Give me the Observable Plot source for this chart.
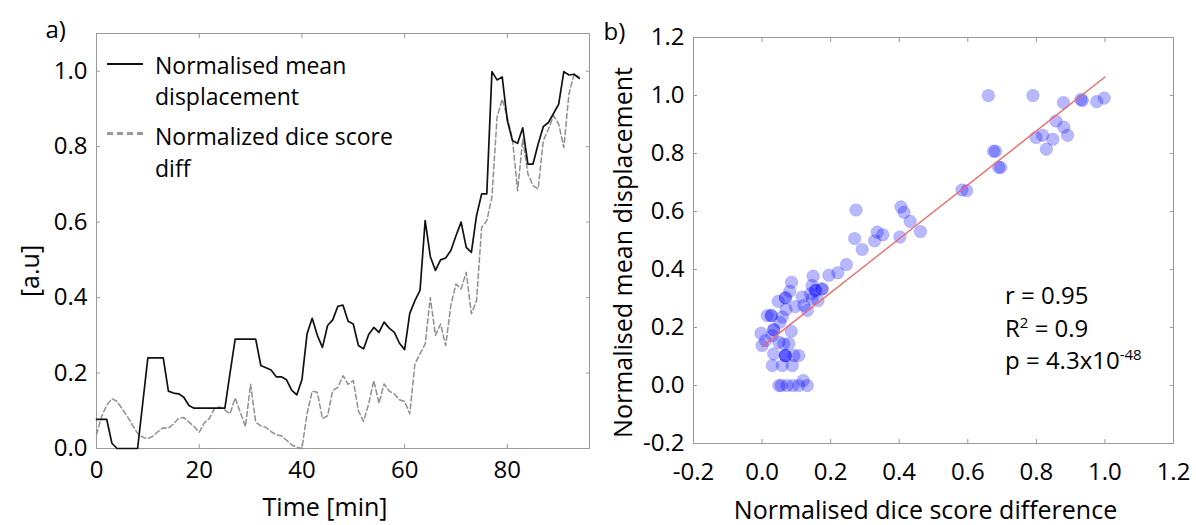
<!DOCTYPE html>
<html><head><meta charset="utf-8">
<script src="https://cdn.jsdelivr.net/npm/d3@7"></script>
<script src="https://cdn.jsdelivr.net/npm/@observablehq/plot@0.6"></script>
<style>
body{margin:0;background:#fff;font-family:"Open Sans",sans-serif;color:#000;}
#wrap{position:relative;width:1196px;height:525px;overflow:hidden;background:#fff;}
.panel{position:absolute;top:0;}
.legend{position:absolute;font-size:23px;line-height:31px;white-space:nowrap;}
.sw{position:absolute;width:36px;height:0;}
.stats{position:absolute;left:1005px;top:279px;font-size:24px;line-height:32.5px;white-space:nowrap;}
.stats sup{font-size:15px;vertical-align:9px;line-height:0;}
</style></head><body><div id="wrap"></div>
<script>
// ---- panel a) data ----
const timeMin = [0,1,2,3,4,5,6,7,8,9,10,11,12,13,14,15,16,17,18,19,20,21,22,23,24,25,26,27,28,29,30,31,32,33,34,35,36,37,38,39,40,41,42,43,44,45,46,47,48,49,50,51,52,53,54,55,56,57,58,59,60,61,62,63,64,65,66,67,68,69,70,71,72,73,74,75,76,77,78,79,80,81,82,83,84,85,86,87,88,89,90,91,92,93,94];
const meanDisplacement = [0.077,0.077,0.077,0.014,0,0,0,0,0,0.12,
 0.24,0.24,0.24,0.24,0.152,0.147,0.145,0.136,0.114,0.107,
 0.107,0.107,0.107,0.107,0.107,0.107,0.2,0.29,0.29,0.29,
 0.29,0.29,0.22,0.214,0.208,0.19,0.19,0.182,0.155,0.142,
 0.182,0.304,0.345,0.3,0.268,0.326,0.341,0.377,0.38,0.337,
 0.33,0.273,0.264,0.302,0.321,0.308,0.335,0.319,0.308,0.279,
 0.262,0.358,0.392,0.419,0.604,0.509,0.472,0.5,0.505,0.525,
 0.564,0.6,0.533,0.52,0.617,0.675,0.675,0.999,0.977,0.985,
 0.869,0.816,0.809,0.85,0.754,0.754,0.807,0.853,0.864,0.888,
 0.913,0.999,0.99,0.992,0.981];
const diceScoreDiff = [0.037,0.085,0.115,0.132,0.125,0.105,0.085,0.062,0.04,0.03,
 0.026,0.033,0.045,0.055,0.054,0.065,0.08,0.082,0.07,0.058,
 0.043,0.068,0.08,0.107,0.11,0.102,0.092,0.134,0.096,0.058,
 0.17,0.07,0.06,0.056,0.045,0.036,0.034,0.022,0.01,0.003,
 0,0.092,0.152,0.149,0.079,0.087,0.154,0.162,0.193,0.17,
 0.18,0.1,0.072,0.118,0.18,0.12,0.171,0.152,0.145,0.129,
 0.125,0.092,0.224,0.251,0.277,0.4,0.3,0.33,0.273,0.38,
 0.436,0.423,0.467,0.357,0.392,0.586,0.604,0.666,0.878,0.926,
 0.878,0.82,0.683,0.82,0.728,0.697,0.688,0.816,0.847,0.882,
 0.86,0.798,0.94,0.992,0.985];
const timeTicks = [0,20,40,60,80];
const auTicks = [0,0.2,0.4,0.6,0.8,1.0];

// ---- panel b) data ----
const scatterDice = [0.66,0.79,0.879,0.93,0.934,0.976,0.998,0.799,0.818,0.829,0.848,0.857,0.88,0.891,0.675,0.681,0.69,0.696,0.583,0.597,0.274,0.405,0.414,0.432,0.462,0.402,0.27,0.292,0.328,0.336,0.352,
 0.246,0.221,0.195,0.149,0.086,0.081,0.068,0.068,0.047,0.07,0.097,0.117,0.122,0.132,0.146,0.156,0.156,0.175,0.175,0.163,0.146,0.141,0.027,0.027,0.015,0.052,0.059,0.034,0.034,0.03,0.085,-0.003,0.01,0,0.049,0.063,0.078,0.034,0.068,0.068,0.068,0.093,0.107,0.03,0.059,0.088,0.049,0.056,0.073,0.09,0.107,0.12,0.132];
const scatterDisp = [1.0,1.0,0.976,0.986,0.983,0.979,0.991,0.855,0.863,0.815,0.849,0.912,0.891,0.863,0.808,0.808,0.752,0.752,0.674,0.672,0.605,0.616,0.597,0.566,0.531,0.512,0.507,0.469,0.499,0.529,0.52,
 0.417,0.389,0.38,0.377,0.356,0.325,0.302,0.302,0.29,0.262,0.272,0.305,0.276,0.259,0.345,0.328,0.328,0.333,0.333,0.293,0.299,0.316,0.241,0.241,0.241,0.218,0.236,0.192,0.192,0.172,0.187,0.18,0.155,0.138,0.149,0.144,0.144,0.109,0.103,0.103,0.103,0.103,0.103,0.069,0.069,0.069,0,0,0,0,0,0.017,0];
const fitDice = [0, 1.0];
const fitDisp = [0.134, 1.064];
const corrTicks = [-0.2,0,0.2,0.4,0.6,0.8,1.0,1.2];

// ---- build tables ----
const seriesA = timeMin.map((t,i)=>({t, v: meanDisplacement[i]}));
const seriesB = timeMin.map((t,i)=>({t, v: diceScoreDiff[i]}));
const points = scatterDice.map((x,i)=>({x, y: scatterDisp[i]}));
const fit = fitDice.map((x,i)=>({x, y: fitDisp[i]}));
const fmt1 = d => d.toFixed(1);
const frameGray = "#9a9a9a";

const wrap = document.getElementById("wrap");
const baseStyle = {fontFamily:'"Open Sans", sans-serif', fontSize:"24px", color:"#000", background:"transparent", overflow:"visible"};

const left = Plot.plot({
  width: 600, height: 525,
  marginLeft: 96, marginRight: 11, marginTop: 33, marginBottom: 77,
  style: baseStyle,
  x: {domain: [0, 96]},
  y: {domain: [0, 1.1]},
  marks: [
    Plot.frame({stroke: frameGray}),
    Plot.axisX(timeTicks, {anchor:"bottom", tickSize:4, dy:-4, fill:"none", stroke:frameGray}),
    Plot.axisX(timeTicks, {anchor:"top", tickSize:4, dy:4, fill:"none", stroke:frameGray}),
    Plot.axisY(auTicks, {anchor:"left", tickSize:4, dx:4, fill:"none", stroke:frameGray}),
    Plot.axisY(auTicks, {anchor:"right", tickSize:4, dx:-4, fill:"none", stroke:frameGray}),
    Plot.axisX(timeTicks, {anchor:"bottom", tickSize:0, tickPadding:12, label:null, tickFormat: d=>String(d)}),
    Plot.axisY(auTicks, {anchor:"left", tickSize:0, tickPadding:9, label:null, tickFormat: fmt1}),
    Plot.line(seriesB, {x:"t", y:"v", stroke:"#8f8f8f", strokeWidth:1.5, strokeDasharray:"5,3"}),
    Plot.line(seriesA, {x:"t", y:"v", stroke:"#111", strokeWidth:1.7}),
    Plot.text(["Time [min]"], {text:d=>d, frameAnchor:"bottom", dy:59, dx:-18, fontSize:25, textAnchor:"middle", lineAnchor:"middle"}),
    Plot.text(["[a.u]"], {text:d=>d, frameAnchor:"left", dx:-66, dy:30, rotate:-90, fontSize:25, textAnchor:"middle", lineAnchor:"middle"}),
    Plot.text(["a)"], {text:d=>d, frameAnchor:"top-left", dx:-51, dy:-3, textAnchor:"start", lineAnchor:"middle", fontSize:24})
  ]
});
left.classList.add("panel"); left.style.left = "0px";
wrap.appendChild(left);

const right = Plot.plot({
  width: 596, height: 525,
  marginLeft: 93, marginRight: 23, marginTop: 37, marginBottom: 82,
  style: baseStyle,
  x: {domain: [-0.2, 1.2]},
  y: {domain: [-0.2, 1.2]},
  marks: [
    Plot.frame({stroke: frameGray}),
    Plot.axisX(corrTicks, {anchor:"bottom", tickSize:4, dy:-4, fill:"none", stroke:frameGray}),
    Plot.axisX(corrTicks, {anchor:"top", tickSize:4, dy:4, fill:"none", stroke:frameGray}),
    Plot.axisY(corrTicks, {anchor:"left", tickSize:4, dx:4, fill:"none", stroke:frameGray}),
    Plot.axisY(corrTicks, {anchor:"right", tickSize:4, dx:-4, fill:"none", stroke:frameGray}),
    Plot.axisX(corrTicks, {anchor:"bottom", tickSize:0, tickPadding:19, label:null, tickFormat: fmt1}),
    Plot.axisY(corrTicks, {anchor:"left", tickSize:0, tickPadding:9, label:null, tickFormat: fmt1}),
    Plot.dot(points, {x:"x", y:"y", r:6.3, fill:"#0000ff", fillOpacity:0.28, stroke:"#0000ff", strokeOpacity:0.12, strokeWidth:1}),
    Plot.line(fit, {x:"x", y:"y", stroke:"#f26666", strokeWidth:1.3}),
    Plot.text(["Normalised dice score difference"], {text:d=>d, frameAnchor:"bottom", dy:67, dx:-8, fontSize:25, textAnchor:"middle", lineAnchor:"middle"}),
    Plot.text(["Normalised mean displacement"], {text:d=>d, frameAnchor:"left", dx:-70, dy:12, rotate:-90, fontSize:25, textAnchor:"middle", lineAnchor:"middle"}),
    Plot.text(["b)"], {text:d=>d, frameAnchor:"top-left", dx:-90, dy:-5, textAnchor:"start", lineAnchor:"middle", fontSize:24})
  ]
});
right.classList.add("panel"); right.style.left = "600px";
wrap.appendChild(right);

// legend (panel a)
const lg = document.createElement("div");
lg.innerHTML =
  `<div class="sw" style="left:107px;top:63px;border-top:2.2px solid #111"></div>
   <div class="legend" style="left:155px;top:50px">Normalised mean<br>displacement</div>
   <div class="sw" style="left:107px;top:132px;border-top:3px dashed #999;width:36px"></div>
   <div class="legend" style="left:155px;top:120px;line-height:32px">Normalized dice score<br>diff</div>`;
wrap.appendChild(lg);

// statistics (panel b)
const st = document.createElement("div");
st.className = "stats";
st.innerHTML = `r = 0.95<br>R<sup>2</sup> = 0.9<br>p = 4.3x10<sup>-48</sup>`;
wrap.appendChild(st);
</script></body></html>
